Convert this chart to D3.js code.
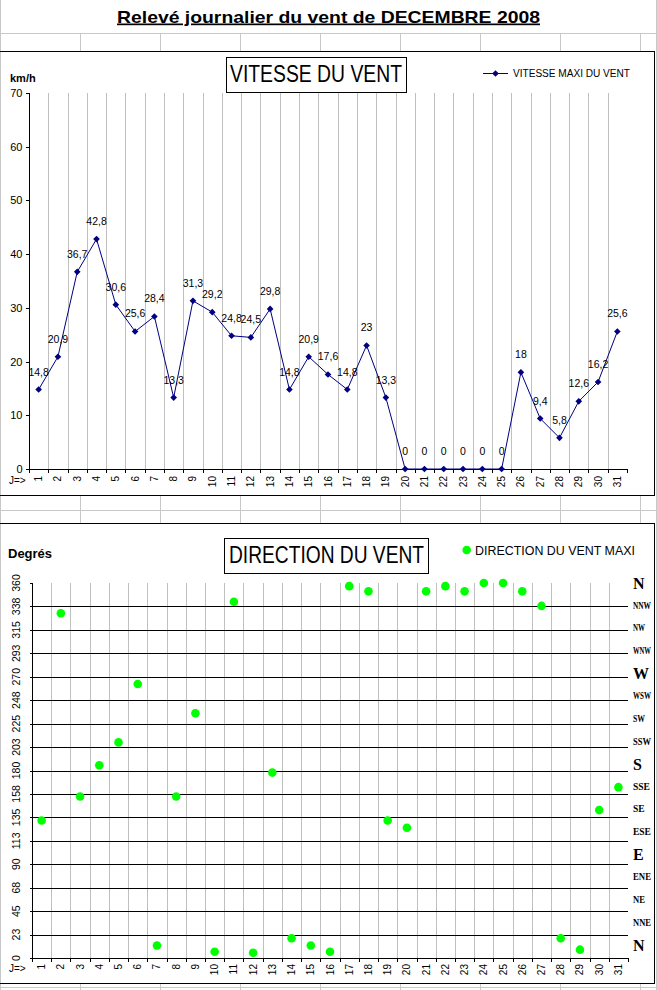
<!DOCTYPE html>
<html><head><meta charset="utf-8">
<script src="https://cdn.jsdelivr.net/npm/d3@7"></script>
<style>body{margin:0;background:#fff} svg{display:block}</style>
</head><body>
<script>
// ---------- DATA ----------
const days = ["1","2","3","4","5","6","7","8","9","10","11","12","13","14","15","16","17","18","19","20","21","22","23","24","25","26","27","28","29","30","31"];
const speed = [14.8,20.9,36.7,42.8,30.6,25.6,28.4,13.3,31.3,29.2,24.8,24.5,29.8,14.8,20.9,17.6,14.8,23,13.3,0,0,0,0,0,0,18,9.4,5.8,12.6,16.2,25.6];
const direction = [132,331,155,185,207,263,12,155,235,6,342,5,178,19,12,6,357,352,132,125,352,357,352,360,360,352,338,19,8,142,164];
const speedTicks = [0,10,20,30,40,50,60,70];
const dirTicks = [0,22.5,45,67.5,90,112.5,135,157.5,180,202.5,225,247.5,270,292.5,315,337.5,360];
const dirTickLabels = ["0","23","45","68","90","113","135","158","180","203","225","248","270","293","315","338","360"];
const compass = ["N","NNW","NW","WNW","W","WSW","SW","SSW","S","SSE","SE","ESE","E","ENE","NE","NNE","N"];
const bigCompass = ["N","W","S","E"];

const W = 657, H = 990;
const svg = d3.select("body").append("svg").attr("width", W).attr("height", H);
const SANS = "'Liberation Sans', Arial, sans-serif";
const SERIF = "'Liberation Serif', 'Times New Roman', serif";
const NAVY = "#000080", GRID = "#c0c0c0", CELL = "#c8c8c8", GREEN = "#00ff00";
const fmt = v => String(v).replace(".", ",");

// ---------- spreadsheet background lines ----------
const cell = svg.append("g").attr("stroke", CELL).attr("stroke-width", 1).attr("shape-rendering","crispEdges");
const cols = [80,160,240,320,400,480,560,640];
cell.append("line").attr("x1",0).attr("x2",W).attr("y1",33.5).attr("y2",33.5);
cols.forEach(c => cell.append("line").attr("x1",c+0.5).attr("x2",c+0.5).attr("y1",33).attr("y2",52));
cell.append("line").attr("x1",0).attr("x2",W).attr("y1",510.5).attr("y2",510.5);
cols.forEach(c => cell.append("line").attr("x1",c+0.5).attr("x2",c+0.5).attr("y1",495).attr("y2",524));
cell.append("line").attr("x1",0).attr("x2",W).attr("y1",987.5).attr("y2",987.5);
cols.forEach(c => cell.append("line").attr("x1",c+0.5).attr("x2",c+0.5).attr("y1",983).attr("y2",990));
cell.append("line").attr("x1",0.5).attr("x2",0.5).attr("y1",0).attr("y2",H);
cell.append("line").attr("x1",656.5).attr("x2",656.5).attr("y1",0).attr("y2",H);

// ---------- main title ----------
svg.append("text").attr("x", 328.5).attr("y", 22.5).attr("text-anchor","middle")
  .attr("font-family", SANS).attr("font-size", 17).attr("font-weight","bold")
  .attr("text-decoration","underline").attr("textLength", 423).attr("lengthAdjust","spacingAndGlyphs")
  .text("Relevé journalier du vent de DECEMBRE 2008");

// ---------- frames ----------
svg.append("rect").attr("x",-1).attr("y",51.5).attr("width",655.5).attr("height",444)
  .attr("fill","none").attr("stroke","#000").attr("shape-rendering","crispEdges");
svg.append("rect").attr("x",-1).attr("y",523.5).attr("width",655.5).attr("height",460)
  .attr("fill","none").attr("stroke","#000").attr("shape-rendering","crispEdges");

// =============== TOP CHART: speed ===============
const tx = d3.scaleBand().domain(days).range([29, 627]).padding(0);
const ty = d3.scaleLinear().domain([0, 70]).range([469, 93]);
const gTop = svg.append("g");

gTop.append("g").attr("stroke", GRID).attr("shape-rendering","crispEdges")
  .selectAll("line").data(days.slice(1)).join("line")
  .attr("x1", d => Math.round(tx(d)) + 0.5).attr("x2", d => Math.round(tx(d)) + 0.5)
  .attr("y1", ty(70)).attr("y2", ty(0));

const tyAxis = gTop.append("g").attr("transform","translate(29.5,0)")
  .call(d3.axisLeft(ty).tickValues(speedTicks).tickSize(4).tickPadding(3).tickFormat(d => d));
tyAxis.select(".domain").attr("d", `M0,${ty(70)}V${ty(0)}`).attr("shape-rendering","crispEdges");
tyAxis.selectAll("line").attr("shape-rendering","crispEdges");
tyAxis.selectAll("text").attr("font-family", SANS).attr("font-size", 11).attr("fill","#000");

gTop.append("line").attr("x1",29).attr("x2",627).attr("y1",469.5).attr("y2",469.5).attr("stroke","#000").attr("shape-rendering","crispEdges");
const tBounds = days.map(d => tx(d)).concat([tx.range()[1]]);
gTop.append("g").attr("stroke","#000").attr("shape-rendering","crispEdges")
  .selectAll("line").data(tBounds).join("line")
  .attr("x1", b => Math.round(b)+0.5).attr("x2", b => Math.round(b)+0.5).attr("y1",469).attr("y2",473);
gTop.append("g").selectAll("text").data(days).join("text")
  .attr("transform", d => `translate(${tx(d)+tx.bandwidth()/2},476) rotate(-90)`)
  .attr("text-anchor","end").attr("dominant-baseline","central")
  .attr("font-family", SANS).attr("font-size", 10).text(d => d);
gTop.append("text").attr("x",9).attr("y",480).attr("dominant-baseline","central")
  .attr("font-family", SANS).attr("font-size", 10).text("J=>");

const cx = (d,i) => tx(days[i]) + tx.bandwidth()/2;
gTop.append("path").datum(speed)
  .attr("d", d3.line().x((d,i) => cx(d,i)).y(d => ty(d)))
  .attr("fill","none").attr("stroke", NAVY).attr("stroke-width", 1);
const diamond = d3.symbol(d3.symbolSquare, 22);
gTop.append("g").selectAll("path").data(speed).join("path")
  .attr("d", diamond).attr("fill", NAVY)
  .attr("transform", (d,i) => `translate(${cx(d,i)},${ty(d)}) rotate(45)`);
gTop.append("g").selectAll("text").data(speed).join("text")
  .attr("x", (d,i) => cx(d,i)).attr("y", d => ty(d) - 14)
  .attr("text-anchor","middle").attr("font-family", SANS).attr("font-size", 10.5)
  .text(d => fmt(d));

svg.append("text").attr("x",10).attr("y",82).attr("font-family",SANS).attr("font-size",11).attr("font-weight","bold").text("km/h");
svg.append("rect").attr("x",226.5).attr("y",57.5).attr("width",180).attr("height",35).attr("fill","#fff").attr("stroke","#000").attr("shape-rendering","crispEdges");
svg.append("text").attr("x",316).attr("y",82.3).attr("text-anchor","middle").attr("font-family",SANS).attr("font-size",23)
  .attr("textLength",172).attr("lengthAdjust","spacingAndGlyphs").text("VITESSE DU VENT");
svg.append("line").attr("x1",483).attr("x2",508).attr("y1",73.5).attr("y2",73.5).attr("stroke",NAVY);
svg.append("path").attr("d", diamond).attr("fill",NAVY).attr("transform","translate(495.5,73.5) rotate(45)");
svg.append("text").attr("x",513).attr("y",76.8).attr("font-family",SANS).attr("font-size",10)
  .attr("textLength",117).attr("lengthAdjust","spacingAndGlyphs").text("VITESSE MAXI DU VENT");

// =============== BOTTOM CHART: direction ===============
const bx = d3.scaleBand().domain(days).range([32, 628]).padding(0);
const by = d3.scaleLinear().domain([0, 360]).range([958, 583]);
const gBot = svg.append("g");

gBot.append("g").attr("stroke", GRID).attr("shape-rendering","crispEdges")
  .selectAll("line").data(days.slice(1)).join("line")
  .attr("x1", d => Math.round(bx(d)) + 0.5).attr("x2", d => Math.round(bx(d)) + 0.5)
  .attr("y1", by(360)).attr("y2", by(0));
gBot.append("g").attr("stroke", "#000").attr("shape-rendering","crispEdges")
  .selectAll("line").data(dirTicks.slice(1, -1)).join("line")
  .attr("x1", 32).attr("x2", 628)
  .attr("y1", d => Math.round(by(d)) + 0.5).attr("y2", d => Math.round(by(d)) + 0.5);

const byAxis = gBot.append("g").attr("transform","translate(32.5,0)")
  .call(d3.axisLeft(by).tickValues(dirTicks).tickSize(3).tickFormat(""));
byAxis.select(".domain").attr("d", `M0,${by(360)}V${by(0)}`).attr("shape-rendering","crispEdges");
byAxis.selectAll("line").attr("shape-rendering","crispEdges");
gBot.append("g").selectAll("text").data(dirTicks).join("text")
  .attr("transform", (d,i) => `translate(16,${by(d)}) rotate(-90)`)
  .attr("text-anchor","middle").attr("dominant-baseline","central")
  .attr("font-family", SANS).attr("font-size", 10.5)
  .text((d,i) => dirTickLabels[i]);

gBot.append("line").attr("x1",32).attr("x2",628).attr("y1",958.5).attr("y2",958.5).attr("stroke","#000").attr("shape-rendering","crispEdges");
const bBounds = days.map(d => bx(d)).concat([bx.range()[1]]);
gBot.append("g").attr("stroke","#000").attr("shape-rendering","crispEdges")
  .selectAll("line").data(bBounds).join("line")
  .attr("x1", b => Math.round(b)+0.5).attr("x2", b => Math.round(b)+0.5).attr("y1",958).attr("y2",962);
gBot.append("g").selectAll("text").data(days).join("text")
  .attr("transform", d => `translate(${bx(d)+bx.bandwidth()/2},964) rotate(-90)`)
  .attr("text-anchor","end").attr("dominant-baseline","central")
  .attr("font-family", SANS).attr("font-size", 10).text(d => d);
gBot.append("text").attr("x",9).attr("y",968).attr("dominant-baseline","central")
  .attr("font-family", SANS).attr("font-size", 10).text("J=>");

// compass labels on the right (condensed small labels, like the reference)
const cy = d3.scalePoint().domain(d3.range(compass.length)).range([583, 945]);
const cLabels = gBot.append("g").selectAll("text").data(compass).join("text")
  .attr("x", 0).attr("y", 0).attr("dominant-baseline","central")
  .attr("font-family", SERIF).attr("font-weight","bold")
  .attr("font-size", d => bigCompass.includes(d) ? 16 : 9.5)
  .text(d => d);
cLabels.each(function(d, i) {
  const w = this.getComputedTextLength();
  const maxW = d.length === 3 ? 18 : (d.length === 2 ? 12 : w);
  const sx = Math.min(1, maxW / w);
  d3.select(this).attr("transform", `translate(633,${cy(i)}) scale(${sx},1)`);
});

gBot.append("g").selectAll("circle").data(direction).join("circle")
  .attr("cx", (d,i) => bx(days[i]) + bx.bandwidth()/2).attr("cy", d => by(d))
  .attr("r", 4.3).attr("fill", GREEN);

svg.append("text").attr("x",8).attr("y",557.5).attr("font-family",SANS).attr("font-size",13).attr("font-weight","bold").text("Degrés");
svg.append("rect").attr("x",224.5).attr("y",538.5).attr("width",204).attr("height",35).attr("fill","#fff").attr("stroke","#000").attr("shape-rendering","crispEdges");
svg.append("text").attr("x",326.5).attr("y",563.3).attr("text-anchor","middle").attr("font-family",SANS).attr("font-size",23)
  .attr("textLength",195).attr("lengthAdjust","spacingAndGlyphs").text("DIRECTION DU VENT");
svg.append("circle").attr("cx",466.7).attr("cy",550).attr("r",4.3).attr("fill",GREEN);
svg.append("text").attr("x",475).attr("y",554.5).attr("font-family",SANS).attr("font-size",12.5)
  .attr("textLength",160).attr("lengthAdjust","spacingAndGlyphs").text("DIRECTION DU VENT MAXI");
</script>
</body></html>
